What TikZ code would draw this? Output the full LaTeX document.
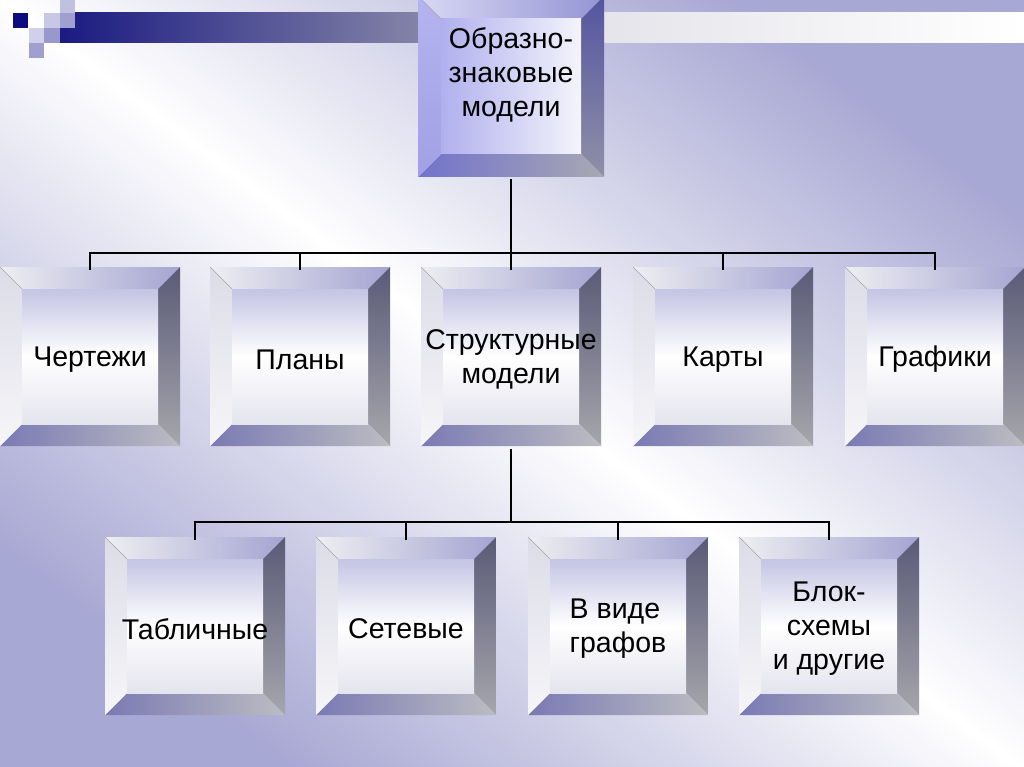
\documentclass[tikz,border=0pt]{standalone}
\usepackage{fontspec}
\setmainfont{Liberation Sans}
\definecolor{bgL}{HTML}{A8A8D4}
\definecolor{navy}{HTML}{1A1A82}
\definecolor{barMid}{HTML}{8484A8}
\definecolor{barLight}{HTML}{E4E4EA}
\definecolor{sqNavy}{HTML}{0C0C80}
\definecolor{sqA}{HTML}{C8C8E4}
\definecolor{sqB}{HTML}{C0C0E0}
\definecolor{sqC}{HTML}{A0A0D0}
\definecolor{sqD}{HTML}{D0D0E8}
\definecolor{sqE}{HTML}{9898CC}
% grey bevel palette
\definecolor{gT1}{HTML}{EEEEF2}\definecolor{gT2}{HTML}{A4A4D2}
\definecolor{gR1}{HTML}{5A5A78}\definecolor{gR2}{HTML}{A6A6AC}
\definecolor{gB1}{HTML}{7A7AB4}\definecolor{gB2}{HTML}{BCBCC2}
\definecolor{gL1}{HTML}{DCDCE8}\definecolor{gL2}{HTML}{F6F6F8}
\definecolor{gF1}{HTML}{C4C4E4}\definecolor{gF2}{HTML}{E4E4EE}
% blue bevel palette
\definecolor{bT1}{HTML}{D8D8F4}\definecolor{bT2}{HTML}{9494D4}
\definecolor{bR1}{HTML}{5454A0}\definecolor{bR2}{HTML}{9090A8}
\definecolor{bB1}{HTML}{7272CC}\definecolor{bB2}{HTML}{A8A8B4}
\definecolor{bL1}{HTML}{B4B4F0}\definecolor{bL2}{HTML}{A0A0E4}
\definecolor{bF1}{HTML}{B0B0EE}\definecolor{bF2}{HTML}{F4F4FC}
\tikzset{
  gface/.style={shading=axis, shading angle=-45, top color=gF1, bottom color=gF2, middle color=white},
  bface/.style={left color=bF1, right color=bF2},
  lbl/.style={font=\fontsize{28.5}{34}\selectfont, align=center, text=black, inner sep=0pt},
  conn/.style={line width=2.8pt, black},
}
\newcommand\bvl[6]{%
  \shade[left color=#6T1, right color=#6T2] (#1,#2) -- (#3,#2) -- (#3-#5,#2+#5) -- (#1+#5,#2+#5) -- cycle;
  \shade[top color=#6R1, bottom color=#6R2] (#3,#2) -- (#3,#4) -- (#3-#5,#4-#5) -- (#3-#5,#2+#5) -- cycle;
  \shade[left color=#6B1, right color=#6B2] (#1,#4) -- (#3,#4) -- (#3-#5,#4-#5) -- (#1+#5,#4-#5) -- cycle;
  \shade[top color=#6L1, bottom color=#6L2] (#1,#2) -- (#1+#5,#2+#5) -- (#1+#5,#4-#5) -- (#1,#4) -- cycle;
  \shade[#6face] (#1+#5,#2+#5) rectangle (#3-#5,#4-#5);
  \draw[gray!70, line width=0.6pt] (#1,#2) -- (#1+#5,#2+#5);
}
\begin{document}
\begin{tikzpicture}[x=1pt,y=-1pt]
\useasboundingbox (0,0) rectangle (1024,767);
\begin{scope}
\clip (0,0) rectangle (1024,767);
% background
\shade[shading=axis, top color=bgL, bottom color=bgL, middle color=white, shading angle=-37] (0,0) rectangle (1024,767);
% header bar and squares
\shade[left color=navy, right color=barMid] (60,13) rectangle (420,43);
\shade[left color=barMid, right color=barLight] (420,13) rectangle (600,43);
\shade[left color=barLight, right color=white] (600,13) rectangle (1024,43);
\fill[sqNavy] (13,13) rectangle (28,28);
\fill[sqA] (44,13) rectangle (60,28);
\fill[sqB] (60,0) rectangle (75,13);
\fill[sqC] (60,13) rectangle (75,28);
\fill[sqD] (29,28) rectangle (44,43);
\fill[sqE] (44,28) rectangle (60,43);
\fill[sqC] (29,43) rectangle (44,58);
% connector junctions
\coordinate (j1) at (511,253);
\coordinate (j2) at (511,522);
% boxes
\bvl{418}{-4}{604}{177}{23}{b}
\bvl{0}{267}{180}{446}{22}{g}
\bvl{210}{267}{390}{446}{22}{g}
\bvl{421}{267}{601}{446}{22}{g}
\bvl{633}{267}{813}{446}{22}{g}
\bvl{845}{267}{1025}{446}{22}{g}
\bvl{105}{537}{285}{715}{22}{g}
\bvl{316}{537}{496}{715}{22}{g}
\bvl{528}{537}{708}{715}{22}{g}
\bvl{739}{537}{919}{715}{22}{g}
% nodes
\node[lbl, minimum width=186pt, minimum height=208pt, yshift=-2pt] (top) at (511,73) {Образно-\\знаковые\\модели};
\node[lbl, minimum width=180pt, minimum height=179pt, yshift=-3pt] (ch) at (90,356.5) {Чертежи};
\node[lbl, minimum width=180pt, minimum height=179pt, yshift=-3pt] (pl) at (300,356.5) {Планы};
\node[lbl, minimum width=180pt, minimum height=179pt, yshift=-3pt] (st) at (511,356.5) {Структурные\\модели};
\node[lbl, minimum width=180pt, minimum height=179pt, yshift=-3pt] (ka) at (723,356.5) {Карты};
\node[lbl, minimum width=180pt, minimum height=179pt, yshift=-3pt] (gr) at (935,356.5) {Графики};
\node[lbl, minimum width=180pt, minimum height=178pt, yshift=-3pt] (ta) at (195,626) {Табличные};
\node[lbl, minimum width=180pt, minimum height=178pt, yshift=-3pt] (se) at (406,626) {Сетевые};
\node[lbl, minimum width=180pt, minimum height=178pt, yshift=-3pt, align=left] (vg) at (618,626) {В виде\\графов};
\node[lbl, minimum width=180pt, minimum height=178pt, yshift=-3pt] (bs) at (829,626) {Блок-\\схемы\\и другие};
\draw[conn] (top.south) -- (j1);
\draw[conn] (ch.north) |- (gr.north |- j1) -- (gr.north);
\draw[conn] (pl.north) -- (pl.north |- j1);
\draw[conn] (st.north) -- (st.north |- j1);
\draw[conn] (ka.north) -- (ka.north |- j1);
\draw[conn] (st.south) -- (j2);
\draw[conn] (ta.north) |- (bs.north |- j2) -- (bs.north);
\draw[conn] (se.north) -- (se.north |- j2);
\draw[conn] (vg.north) -- (vg.north |- j2);
\end{scope}
\end{tikzpicture}
\end{document}
